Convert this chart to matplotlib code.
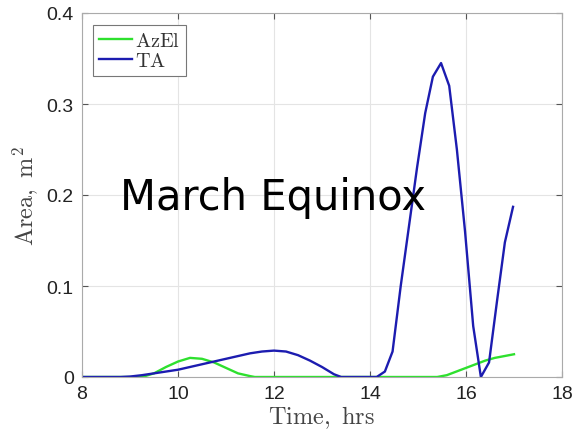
import numpy as np
import matplotlib.pyplot as plt

plt.rcParams['mathtext.fontset'] = 'cm'

# AzEl (green) area vs time
azel_t = [8.0, 9.25, 9.5, 9.75, 10.0, 10.25, 10.5, 10.75, 11.0, 11.25, 11.5, 11.6,
          15.4, 15.6, 15.8, 16.0, 16.2, 16.4, 16.6, 16.8, 17.0]
azel_a = [0.0, 0.0, 0.004, 0.011, 0.017, 0.021, 0.020, 0.016, 0.010, 0.004, 0.001, 0.0,
          0.0, 0.002, 0.006, 0.010, 0.014, 0.018, 0.021, 0.023, 0.025]

# TA (blue) area vs time
ta_t = [8.0, 8.8, 9.0, 9.25, 9.5, 9.75, 10.0, 10.25, 10.5, 10.75, 11.0, 11.25, 11.5,
        11.75, 12.0, 12.25, 12.5, 12.75, 13.0, 13.25, 13.4,
        14.14, 14.31, 14.47, 14.64, 14.81, 14.98, 15.15, 15.31, 15.48, 15.65,
        15.81, 15.98, 16.15, 16.31, 16.48, 16.65, 16.81, 16.98]
ta_a = [0.0, 0.0, 0.0005, 0.002, 0.004, 0.006, 0.008, 0.011, 0.014, 0.017, 0.020, 0.023, 0.026,
        0.028, 0.029, 0.028, 0.024, 0.018, 0.011, 0.003, 0.0,
        0.0, 0.006, 0.028, 0.10, 0.165, 0.23, 0.29, 0.33, 0.345, 0.32,
        0.25, 0.16, 0.056, 0.0, 0.016, 0.085, 0.148, 0.187]

x_ticks = [8, 10, 12, 14, 16, 18]
y_ticks = [0, 0.1, 0.2, 0.3, 0.4]

fig = plt.figure(figsize=(5.73, 4.39), dpi=100)
ax = fig.add_axes([82 / 573, 61 / 439, 480 / 573, 364 / 439])

ax.plot(azel_t, azel_a, color='#2ee02e', lw=1.7, label='AzEl')
ax.plot(ta_t, ta_a, color='#1c1cb0', lw=1.7, label='TA')

ax.set_xlim(8, 18)
ax.set_ylim(0, 0.4)
ax.set_xticks(x_ticks)
ax.set_yticks(y_ticks)
ax.set_xticklabels([str(v) for v in x_ticks])
ax.set_yticklabels(['0', '0.1', '0.2', '0.3', '0.4'])
ax.tick_params(direction='in', top=True, right=True, labelsize=14, length=4,
               color='#555555', labelcolor='#222222', pad=6)
for lab in ax.get_xticklabels() + ax.get_yticklabels():
    lab.set_family('Liberation Sans')
ax.grid(True, color='#e4e4e4', lw=0.8)
for s in ax.spines.values():
    s.set_color('#aaaaaa')

ax.set_xlabel(r'$\mathrm{Time,\ hrs}$', fontsize=17.5, color='#444444', labelpad=1)
ax.set_ylabel(r'$\mathrm{Area,\ m^2}$', fontsize=17.5, color='#444444', labelpad=4)

leg = ax.legend(loc='upper left', prop={'size': 14},
                handlelength=1.7, handletextpad=0.15, borderpad=0.3,
                labelspacing=0.05, fancybox=False, framealpha=1,
                borderaxespad=0, bbox_to_anchor=(0.023, 0.967))
leg.get_frame().set_edgecolor('#777777')
leg.get_frame().set_linewidth(0.8)
for t in leg.get_texts():
    t.set_text(r'$\mathrm{' + t.get_text() + '}$')
    t.set_fontsize(14.5)
    t.set_color('#333333')

ax.text(8.79, 0.1846, 'March Equinox', fontsize=30, color='black',
        family='DejaVu Sans', va='baseline', ha='left')

fig.savefig('out.png', dpi=100)
